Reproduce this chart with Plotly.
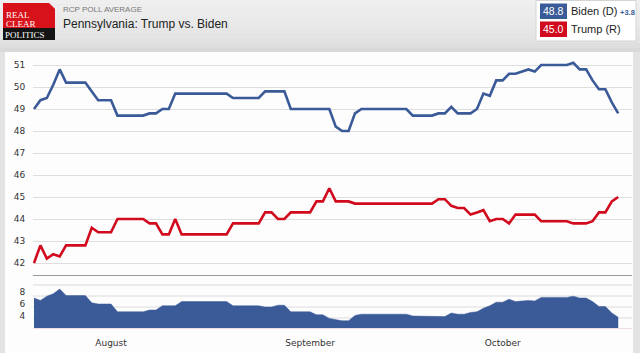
import pandas as pd
import plotly.graph_objects as go

# ---------------- data ----------------
start_date = "2020-07-20"
biden = [49.0, 49.4, 49.5, 50.1, 50.8, 50.2, 50.2, 50.2, 50.2, 49.8,
         49.4, 49.4, 49.4, 48.7, 48.7, 48.7, 48.7, 48.7, 48.8, 48.8,
         49.0, 49.0, 49.7, 49.7, 49.7, 49.7, 49.7, 49.7, 49.7, 49.7,
         49.7, 49.5, 49.5, 49.5, 49.5, 49.5, 49.8, 49.8, 49.8, 49.8,
         49.0, 49.0, 49.0, 49.0, 49.0, 49.0, 49.0, 48.2, 48.0, 48.0,
         48.8, 49.0, 49.0, 49.0, 49.0, 49.0, 49.0, 49.0, 49.0, 48.7,
         48.7, 48.7, 48.7, 48.8, 48.8, 49.1, 48.8, 48.8, 48.8, 49.0,
         49.7, 49.6, 50.3, 50.3, 50.6, 50.6, 50.7, 50.8, 50.7, 51.0,
         51.0, 51.0, 51.0, 51.0, 51.1, 50.8, 50.8, 50.3, 49.9, 49.9,
         49.3, 48.8]
trump = [42.0, 42.8, 42.2, 42.4, 42.3, 42.8, 42.8, 42.8, 42.8, 43.6,
         43.4, 43.4, 43.4, 44.0, 44.0, 44.0, 44.0, 44.0, 43.8, 43.8,
         43.3, 43.3, 44.0, 43.3, 43.3, 43.3, 43.3, 43.3, 43.3, 43.3,
         43.3, 43.8, 43.8, 43.8, 43.8, 43.8, 44.3, 44.3, 44.0, 44.0,
         44.3, 44.3, 44.3, 44.3, 44.8, 44.8, 45.4, 44.8, 44.8, 44.8,
         44.7, 44.7, 44.7, 44.7, 44.7, 44.7, 44.7, 44.7, 44.7, 44.7,
         44.7, 44.7, 44.7, 44.9, 44.9, 44.6, 44.5, 44.5, 44.2, 44.3,
         44.4, 43.9, 44.0, 44.0, 43.8, 44.2, 44.2, 44.2, 44.2, 43.9,
         43.9, 43.9, 43.9, 43.9, 43.8, 43.8, 43.8, 43.9, 44.3, 44.3,
         44.8, 45.0]
dates = pd.date_range(start_date, periods=len(biden), freq="D")
spread = [round(b - t, 1) for b, t in zip(biden, trump)]

main_ticks = list(range(42, 52))
spread_ticks = [4, 6, 8]
spread_grid = [3.67, 5.5, 7.33, 9.17]
month_ticks = ["2020-08-01", "2020-09-01", "2020-10-01"]
month_labels = ["August", "September", "October"]

title_small = "RCP POLL AVERAGE"
title_main = "Pennsylvania: Trump vs. Biden"
biden_label = "Biden (D)"
trump_label = "Trump (R)"
lead_label = "+3.8"

BLUE = "#3b5a98"
RED = "#d10a1e"
W, H = 640, 353


def px(x):
    return x / W


def py(y):
    return 1 - y / H


fig = go.Figure()
fig.add_trace(go.Scatter(x=dates, y=biden, mode="lines", line=dict(color=BLUE, width=2.6),
                         xaxis="x", yaxis="y", hoverinfo="skip"))
fig.add_trace(go.Scatter(x=dates, y=trump, mode="lines", line=dict(color=RED, width=2.6),
                         xaxis="x", yaxis="y", hoverinfo="skip"))
fig.add_trace(go.Scatter(x=dates, y=spread, mode="lines", fill="tozeroy",
                         fillcolor=BLUE, line=dict(color=BLUE, width=0.5),
                         xaxis="x2", yaxis="y2", hoverinfo="skip"))

xr = ["2020-07-19 20:15", "2020-10-21 03:30"]
tickfont = dict(family="DejaVu Sans", size=9, color="#333")

shapes = []
# page background strips / panel
shapes.append(dict(type="rect", xref="paper", yref="paper", x0=0, x1=1, y0=0, y1=1,
                   fillcolor="#e3e3e3", line_width=0, layer="below"))
shapes.append(dict(type="rect", xref="paper", yref="paper", x0=px(5), x1=px(633), y0=0, y1=py(52),
                   fillcolor="#fdfdfe", line_width=0, layer="below"))
# header gradient
hcols = ["#efefef", "#eeeeee", "#ededed", "#ececec", "#eaeaea", "#e9e9e9", "#e7e7e7",
         "#e6e6e6", "#e4e4e4", "#e2e2e2", "#dedede", "#d9d9d9"]
band = 52 / len(hcols)
for i, c in enumerate(hcols):
    shapes.append(dict(type="rect", xref="paper", yref="paper", x0=0, x1=1,
                       y0=py((i + 1) * band), y1=py(i * band), fillcolor=c, line_width=0, layer="below"))
# logo
shapes.append(dict(type="rect", xref="paper", yref="paper", x0=px(3), x1=px(55), y0=py(28), y1=py(3),
                   fillcolor="#d8121b", line_width=0, layer="below"))
shapes.append(dict(type="rect", xref="paper", yref="paper", x0=px(3), x1=px(55), y0=py(40), y1=py(28),
                   fillcolor="#141414", line_width=0, layer="below"))
shapes.append(dict(type="path", xref="paper", yref="paper",
                   path=f"M {px(49)} {py(3)} L {px(55.2)} {py(3)} L {px(55.2)} {py(9)} Z",
                   fillcolor="#ececec", line_width=0, layer="below"))
# legend box
shapes.append(dict(type="rect", xref="paper", yref="paper", x0=px(536), x1=px(636), y0=py(41), y1=py(0.5),
                   fillcolor="#ffffff", line=dict(color="#d4d4d4", width=1), layer="below"))
shapes.append(dict(type="rect", xref="paper", yref="paper", x0=px(540), x1=px(567), y0=py(19), y1=py(3.5),
                   fillcolor=BLUE, line_width=0, layer="below"))
shapes.append(dict(type="rect", xref="paper", yref="paper", x0=px(540), x1=px(567), y0=py(37), y1=py(21.5),
                   fillcolor=RED, line_width=0, layer="below"))
# lower chart grid lines
for g in spread_grid:
    shapes.append(dict(type="line", xref="x2 domain", yref="y2", x0=0, x1=1, y0=g, y1=g,
                       line=dict(color="#dcdcdc", width=1), layer="below"))

annotations = [
    dict(text="REAL", x=px(5), y=py(14.5), xanchor="left", yanchor="middle",
         font=dict(family="Liberation Serif", size=9, color="white")),
    dict(text="CLEAR", x=px(5), y=py(24.5), xanchor="left", yanchor="middle",
         font=dict(family="Liberation Serif", size=9, color="white")),
    dict(text="POLITICS", x=px(3.5), y=py(34.5), xanchor="left", yanchor="middle",
         font=dict(family="Liberation Serif", size=9, color="white")),
    dict(text=title_small, x=px(62), y=py(9), xanchor="left", yanchor="middle",
         font=dict(family="Liberation Sans", size=8, color="#777")),
    dict(text=title_main, x=px(62), y=py(24), xanchor="left", yanchor="middle",
         font=dict(family="Liberation Sans", size=12, color="#222")),
    dict(text=f"{biden[-1]:.1f}", x=px(553.5), y=py(11.5), xanchor="center", yanchor="middle",
         font=dict(family="Liberation Sans", size=10.5, color="white")),
    dict(text=f"{trump[-1]:.1f}", x=px(553.5), y=py(29.5), xanchor="center", yanchor="middle",
         font=dict(family="Liberation Sans", size=10.5, color="white")),
    dict(text=biden_label, x=px(570), y=py(11.5), xanchor="left", yanchor="middle",
         font=dict(family="Liberation Sans", size=11, color="#222")),
    dict(text=trump_label, x=px(570), y=py(29.5), xanchor="left", yanchor="middle",
         font=dict(family="Liberation Sans", size=11, color="#222")),
    dict(text=f"<b>{lead_label}</b>", x=px(619), y=py(12), xanchor="left", yanchor="middle",
         font=dict(family="Liberation Sans", size=7.5, color=BLUE)),
]
for a in annotations:
    a.update(xref="paper", yref="paper", showarrow=False, borderpad=0)

fig.update_layout(
    width=W, height=H, margin=dict(l=0, r=0, t=0, b=0),
    paper_bgcolor="#e3e3e3", plot_bgcolor="#f8f8fc",
    showlegend=False,
    shapes=shapes, annotations=annotations,
    xaxis=dict(domain=[px(33), px(632)], anchor="y", range=xr, type="date",
               showticklabels=False, showgrid=False, zeroline=False,
               showline=True, linecolor="#9a9a9a", linewidth=1.2, ticks=""),
    yaxis=dict(domain=[py(275), py(54)], anchor="x", range=[41.4545, 51.5],
               tickvals=main_ticks, showgrid=True, gridcolor="#dedede", gridwidth=1,
               zeroline=False, tickfont=tickfont, ticks="outside", ticklen=5,
               tickcolor="rgba(0,0,0,0)"),
    xaxis2=dict(domain=[px(33), px(632)], anchor="y2", range=xr, type="date", matches="x",
                tickvals=month_ticks, ticktext=month_labels, showgrid=False, zeroline=False,
                showline=True, linecolor="#f2dede", linewidth=1,
                ticks="outside", ticklen=6, tickcolor="rgba(0,0,0,0)",
                tickfont=dict(family="DejaVu Sans", size=9, color="#333")),
    yaxis2=dict(domain=[py(328), py(280)], anchor="x2", range=[2, 10],
                tickvals=spread_ticks, showgrid=False, zeroline=False, tickfont=tickfont,
                ticks="outside", ticklen=5, tickcolor="rgba(0,0,0,0)"),
)

fig.write_html("out.html", config={"displayModeBar": False})
